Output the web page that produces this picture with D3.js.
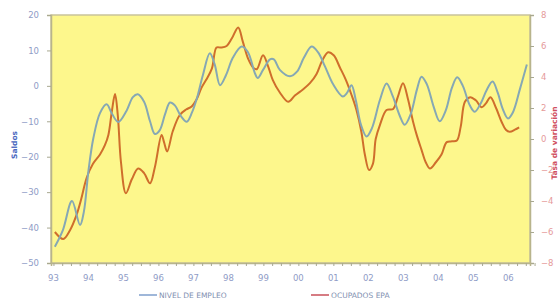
<!DOCTYPE html>
<html>
<head>
<meta charset="utf-8">
<script src="https://cdn.jsdelivr.net/npm/d3@7"></script>
<style>
  body { margin: 0; background: #fff; }
  text { font-family: "DejaVu Sans", sans-serif; }
</style>
</head>
<body>
<div class="chart"></div>
<script>
const svgSize = { width: 559, height: 300 };
const plot = { left: 51, right: 530, top: 15, bottom: 263 };

// etiquetas del eje x
const years = [1993, 1994, 1995, 1996, 1997, 1998, 1999, 2000, 2001, 2002, 2003, 2004, 2005, 2006];
const yearLabels = ['93', '94', '95', '96', '97', '98', '99', '00', '01', '02', '03', '04', '05', '06'];
const leftTicks = [20, 10, 0, -10, -20, -30, -40, -50];
const rightTicks = [8, 6, 4, 2, 0, -2, -4, -6, -8];

// NIVEL DE EMPLEO (saldos, eje izquierdo)
const empleoFechas = [1993.04, 1993.27, 1993.53, 1993.76, 1993.87, 1994.00, 1994.14, 1994.33, 1994.52, 1994.67,
  1994.85, 1995.09, 1995.27, 1995.41, 1995.59, 1995.76, 1995.90, 1996.04, 1996.19, 1996.33,
  1996.47, 1996.64, 1996.81, 1996.96, 1997.10, 1997.27, 1997.47, 1997.61, 1997.76, 1997.93,
  1998.13, 1998.38, 1998.56, 1998.76, 1998.84, 1998.99, 1999.19, 1999.30, 1999.47, 1999.76,
  1999.96, 2000.16, 2000.38, 2000.56, 2000.76, 2000.99, 2001.27, 2001.39, 2001.52, 2001.64,
  2001.79, 2001.95, 2002.10, 2002.33, 2002.52, 2002.70, 2002.90, 2003.04, 2003.21, 2003.39,
  2003.52, 2003.67, 2003.87, 2004.04, 2004.21, 2004.39, 2004.54, 2004.70, 2004.90, 2005.04,
  2005.21, 2005.39, 2005.55, 2005.70, 2005.84, 2005.99, 2006.13, 2006.33, 2006.53];
const empleoValores = [-45.4, -40.7, -32.5, -39.3, -35.5, -24, -14.8, -7.7, -5.2, -7.8,
  -10.2, -7.0, -3.2, -2.4, -4.5, -10, -13.6, -12.5, -8, -4.7,
  -5.5, -8.5, -10.1, -7.5, -3.5, 3, 9.2, 6, 0.2, 3,
  8, 11.1, 9.5, 3.5, 2.2, 4.5, 7.5, 7.5, 4.5, 2.7,
  4, 8, 11.1, 9.5, 5.5, 0.5, -3, -2, 0.2, -4,
  -11, -14.3, -12, -4, 0.7, -3, -8.5, -11, -8, -1,
  2.6, 0.5, -6, -10, -7, -0.5, 2.4, 0, -5.5, -7.3,
  -5, -1, 1.2, -2, -6.5, -9.2, -7.5, -1, 6];

// OCUPADOS EPA (tasa de variación, eje derecho)
const epaFechas = [1993.04, 1993.28, 1993.47, 1993.66, 1993.79, 1993.95, 1994.13, 1994.33, 1994.47, 1994.57,
  1994.67, 1994.76, 1994.84, 1994.93, 1995.07, 1995.24, 1995.42, 1995.59, 1995.76, 1995.90,
  1996.09, 1996.16, 1996.25, 1996.41, 1996.61, 1996.79, 1996.95, 1997.10, 1997.23, 1997.36,
  1997.53, 1997.66, 1997.79, 1997.95, 1998.10, 1998.28, 1998.41, 1998.56, 1998.71, 1998.81,
  1998.99, 1999.14, 1999.27, 1999.47, 1999.71, 1999.90, 2000.13, 2000.33, 2000.52, 2000.67,
  2000.85, 2001.01, 2001.19, 2001.36, 2001.52, 2001.66, 2001.80, 2001.90, 2002.02, 2002.13,
  2002.21, 2002.33, 2002.52, 2002.71, 2002.84, 2002.99, 2003.13, 2003.28, 2003.39, 2003.52,
  2003.64, 2003.76, 2003.93, 2004.09, 2004.24, 2004.39, 2004.53, 2004.64, 2004.76, 2004.91,
  2005.07, 2005.24, 2005.36, 2005.49, 2005.65, 2005.81, 2005.93, 2006.04, 2006.19, 2006.31];
const epaValores = [-6.0, -6.45, -5.9, -4.9, -3.9, -2.5, -1.6, -1.0, -0.4, 0.26,
  1.8, 2.9, 1.5, -1.5, -3.5, -2.6, -1.9, -2.2, -2.86, -1.8,
  0.26, -0.2, -0.8, 0.5, 1.55, 1.9, 2.1, 2.6, 3.3, 3.8,
  4.56, 5.9, 5.9, 6.0, 6.5, 7.2, 6.3, 5.2, 4.6, 4.5,
  5.4, 4.66, 3.8, 3.0, 2.4, 2.8, 3.2, 3.6, 4.2, 5.0,
  5.6, 5.4, 4.6, 3.8, 2.84, 1.87, 0.47, -1.0, -2.0, -1.6,
  0, 0.9, 1.87, 1.94, 2.7, 3.6, 2.6, 1.1, 0.2, -0.7,
  -1.5, -1.9, -1.5, -1.0, -0.2, -0.15, -0.1, 0.8, 2.4, 2.7,
  2.5, 2.05, 2.3, 2.7, 2.0, 1.1, 0.6, 0.47, 0.6, 0.75];

const empleo = empleoFechas.map((t, i) => ({ t, v: empleoValores[i] }));
const epa = epaFechas.map((t, i) => ({ t, v: epaValores[i] }));

const svg = d3.select('.chart')
    .append('svg')
    .attr('width', svgSize.width)
    .attr('height', svgSize.height)
;

const x = d3.scaleLinear().domain([1992.93, 2006.62]).range([plot.left, plot.right]);
const yLeft = d3.scaleLinear().domain([-50, 20]).range([plot.bottom, plot.top]);
const yRight = d3.scaleLinear().domain([-8, 8]).range([plot.bottom, plot.top]);

// fondo del área de trazado
svg.append('rect')
    .attr('x', plot.left)
    .attr('y', plot.top)
    .attr('width', plot.right - plot.left)
    .attr('height', plot.bottom - plot.top)
    .attr('fill', '#fdf78c')
    .attr('stroke', '#c9c49a')
    .attr('stroke-width', 1.5)
;

// ejes
const axisStyle = (g, color) => {
    g.select('.domain').attr('stroke', '#b8b48c').attr('stroke-width', 1.5);
    g.selectAll('.tick line').attr('stroke', '#a8a890');
    g.selectAll('.tick text')
        .attr('fill', color)
        .style('font-size', '8.5px');
};

svg.append('g')
    .attr('transform', `translate(${plot.left},0)`)
    .call(d3.axisLeft(yLeft).tickValues(leftTicks).tickSize(4).tickPadding(8))
    .call(g => axisStyle(g, '#8f9cc6'))
;

svg.append('g')
    .attr('transform', `translate(${plot.right},0)`)
    .call(d3.axisRight(yRight).tickValues(rightTicks).tickSize(4).tickPadding(7))
    .call(g => axisStyle(g, '#e59a9a'))
;

const quarterTicks = d3.range(1993, 2006.76, 0.25);
svg.append('g')
    .attr('transform', `translate(0,${plot.bottom})`)
    .call(d3.axisBottom(x).tickValues(quarterTicks).tickSize(3).tickFormat(''))
    .call(g => axisStyle(g, '#8f9cc6'))
;

svg.append('g')
    .selectAll('text')
    .data(years)
    .enter()
    .append('text')
    .attr('x', d => x(d))
    .attr('y', 281)
    .attr('text-anchor', 'middle')
    .attr('fill', '#8f9cc6')
    .style('font-size', '8.5px')
    .text((d, i) => yearLabels[i])
;

// títulos de ejes
svg.append('text')
    .attr('transform', 'translate(17,145) rotate(-90)')
    .attr('text-anchor', 'middle')
    .attr('fill', '#4a68c0')
    .style('font-size', '7.5px')
    .style('font-weight', 'bold')
    .text('Saldos')
;

svg.append('text')
    .attr('transform', 'translate(557,143) rotate(-90)')
    .attr('text-anchor', 'middle')
    .attr('fill', '#d05060')
    .style('font-size', '7.5px')
    .style('font-weight', 'bold')
    .text('Tasa de variación')
;

// líneas
const lineLeft = d3.line()
    .x(d => x(d.t))
    .y(d => yLeft(d.v))
    .curve(d3.curveCatmullRom.alpha(0.5))
;
const lineRight = d3.line()
    .x(d => x(d.t))
    .y(d => yRight(d.v))
    .curve(d3.curveCatmullRom.alpha(0.5))
;

svg.append('path')
    .datum(epa)
    .attr('d', lineRight)
    .attr('fill', 'none')
    .attr('stroke', '#cf6e2c')
    .attr('stroke-width', 2)
;

svg.append('path')
    .datum(empleo)
    .attr('d', lineLeft)
    .attr('fill', 'none')
    .attr('stroke', '#86a8b4')
    .attr('stroke-width', 2)
;

// leyenda
const legend = [
    { label: 'NIVEL DE EMPLEO', color: '#7f9fcc', x: 139 },
    { label: 'OCUPADOS EPA', color: '#c9505a', x: 311 },
];
const lg = svg.append('g')
    .selectAll('g')
    .data(legend)
    .enter()
    .append('g')
    .attr('transform', d => `translate(${d.x},295)`)
;
lg.append('line')
    .attr('x1', 0).attr('x2', 18)
    .attr('stroke', d => d.color)
    .attr('stroke-width', 1.5)
;
lg.append('text')
    .attr('x', 20)
    .attr('y', 3)
    .attr('fill', '#7f8fb0')
    .style('font-size', '7.5px')
    .text(d => d.label)
;
</script>
</body>
</html>
